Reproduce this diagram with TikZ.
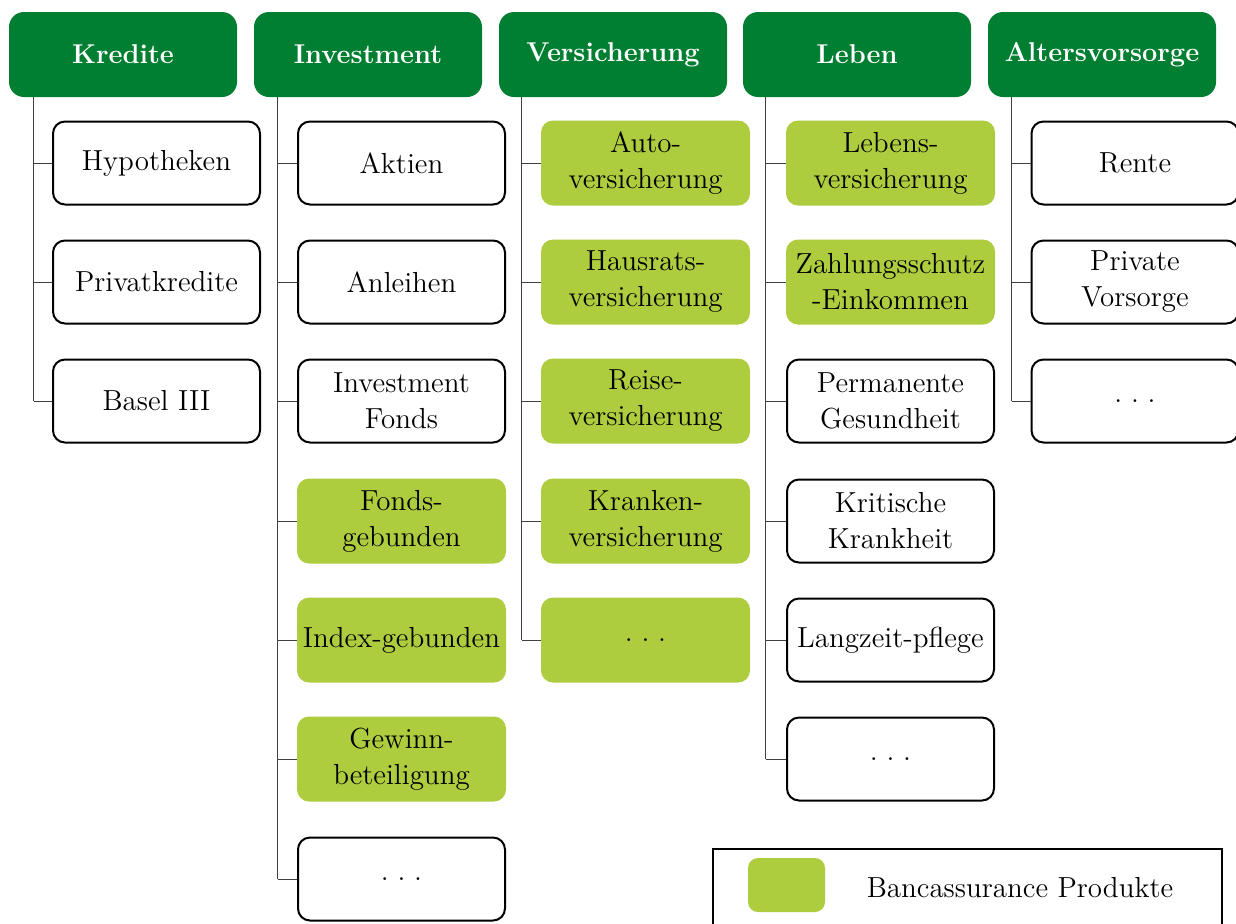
\documentclass[tikz,border=0pt]{standalone}
\usepackage{tikz}
\usetikzlibrary{positioning}
\definecolor{headgreen}{RGB}{0,127,50}
\definecolor{bancgreen}{RGB}{173,204,62}
\newcommand{\etc}{.\hspace{0.3em}.\hspace{0.3em}.}

\begin{document}
\begin{tikzpicture}[x=0.5pt, y=-0.5pt,
    base/.style={rounded corners=6pt, align=center, inner sep=2pt,
                 font=\fontsize{14.5}{18}\selectfont},
    head/.style={base, rounded corners=7.5pt, fill=headgreen, text=white,
                 font=\fontsize{13.6}{16}\selectfont\bfseries,
                 minimum width=114pt, minimum height=42.5pt},
    prod/.style={base, draw=black, line width=1pt, fill=white,
                 minimum width=103.5pt, minimum height=41.5pt},
    banc/.style={base, fill=bancgreen, minimum width=104.5pt, minimum height=42.5pt},
    link/.style={draw=black!75, line width=0.5pt}]

    \useasboundingbox (0,0) rectangle (1236,923);

    % Kredite
    \node[head] (kr)  at (123,54.5) {Kredite};
    \node[prod] (kr1) at (156.5,163) {Hypotheken};
    \node[prod] (kr2) at (156.5,282) {Privatkredite};
    \node[prod] (kr3) at (156.5,401) {Basel III};
    \coordinate (krT) at ([xshift=12.5pt]kr.south west);
    \draw[link] (krT) -- (krT |- kr3.west);
    \foreach \c in {kr1,kr2,kr3} \draw[link] (krT |- \c.west) -- (\c.west);

    % Investment
    \node[head] (in)  at (368,54.5) {Investment};
    \node[prod] (in1) at (401.5,163) {Aktien};
    \node[prod] (in2) at (401.5,282) {Anleihen};
    \node[prod] (in3) at (401.5,401) {Investment\\Fonds};
    \node[banc] (in4) at (401.5,521) {Fonds-\\gebunden};
    \node[banc] (in5) at (401.5,640) {Index-gebunden};
    \node[banc] (in6) at (401.5,759) {Gewinn-\\beteiligung};
    \node[prod] (in7) at (401.5,879) {\etc};
    \coordinate (inT) at ([xshift=12pt]in.south west);
    \draw[link] (inT) -- (inT |- in7.west);
    \foreach \c in {in1,in2,in3,in4,in5,in6,in7} \draw[link] (inT |- \c.west) -- (\c.west);

    % Versicherung
    \node[head] (ve)  at (613,54.5) {Versicherung};
    \node[banc] (ve1) at (645.5,163) {Auto-\\versicherung};
    \node[banc] (ve2) at (645.5,282) {Hausrats-\\versicherung};
    \node[banc] (ve3) at (645.5,401) {Reise-\\versicherung};
    \node[banc] (ve4) at (645.5,521) {Kranken-\\versicherung};
    \node[banc] (ve5) at (645.5,640) {\etc};
    \coordinate (veT) at ([xshift=11.5pt]ve.south west);
    \draw[link] (veT) -- (veT |- ve5.west);
    \foreach \c in {ve1,ve2,ve3,ve4,ve5} \draw[link] (veT |- \c.west) -- (\c.west);

    % Leben
    \node[head] (le)  at (857,54.5) {Leben};
    \node[banc] (le1) at (890.5,163) {Lebens-\\versicherung};
    \node[banc] (le2) at (890.5,282) {Zahlungsschutz\\-Einkommen};
    \node[prod] (le3) at (890.5,401) {Permanente\\Gesundheit};
    \node[prod] (le4) at (890.5,521) {Kritische\\Krankheit};
    \node[prod] (le5) at (890.5,640) {Langzeit-pflege};
    \node[prod] (le6) at (890.5,759) {\etc};
    \coordinate (leT) at ([xshift=11.5pt]le.south west);
    \draw[link] (leT) -- (leT |- le6.west);
    \foreach \c in {le1,le2,le3,le4,le5,le6} \draw[link] (leT |- \c.west) -- (\c.west);

    % Altersvorsorge
    \node[head] (al)  at (1102,54.5) {Altersvorsorge};
    \node[prod] (al1) at (1135,163) {Rente};
    \node[prod] (al2) at (1135,282) {Private\\Vorsorge};
    \node[prod] (al3) at (1135,401) {\etc};
    \coordinate (alT) at ([xshift=12pt]al.south west);
    \draw[link] (alT) -- (alT |- al3.west);
    \foreach \c in {al1,al2,al3} \draw[link] (alT |- \c.west) -- (\c.west);

    % Legende
    \node[draw=black, line width=1pt, minimum width=254.5pt, minimum height=41pt]
        (leg) at (967.5,890) {};
    \node[banc, rounded corners=5pt, minimum width=38.5pt, minimum height=27pt]
        (legbox) at (786.5,885) {};
    \node[base] (legtxt) at (1020,888) {Bancassurance Produkte};
  \end{tikzpicture}
\end{document}
